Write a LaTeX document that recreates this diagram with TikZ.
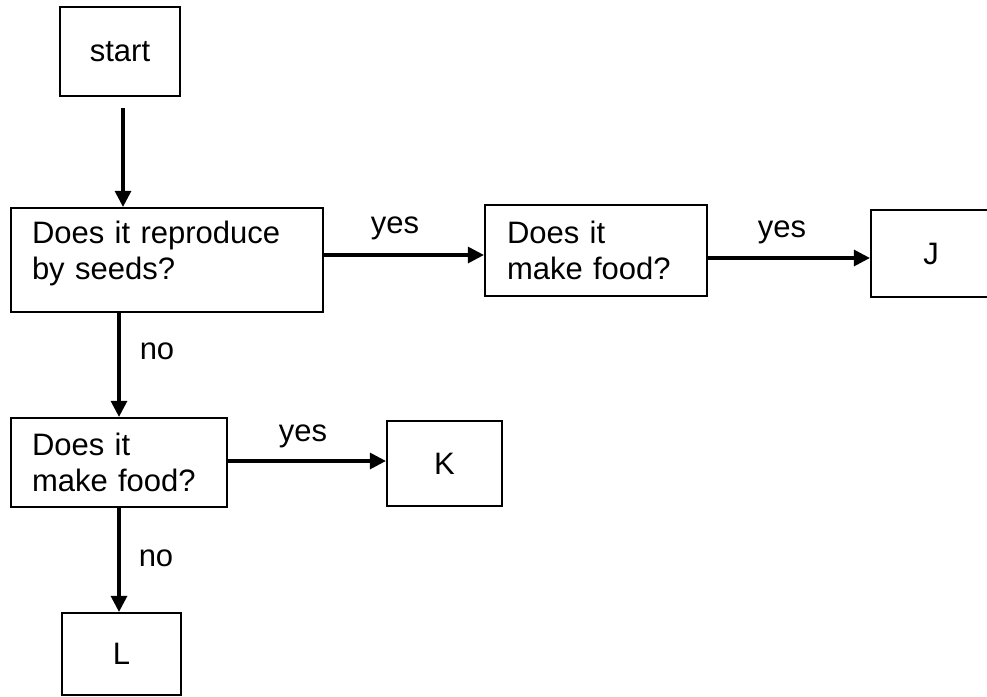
\documentclass[tikz,border=0pt]{standalone}
\usepackage{fontspec}
\setmainfont{Liberation Sans}
\usetikzlibrary{arrows.meta,positioning}

\begin{document}
\begin{tikzpicture}[x=1pt, y=-1pt]
% Key flow chart, coordinates in pixels of the page
\def\keyfont{\fontsize{31}{36}\selectfont}
\providecommand{\keyBoxLineWidth}{2.2pt}
\providecommand{\keyArrowLineWidth}{3.1pt}
\tikzset{
  keybox/.style={draw=black, line width=\keyBoxLineWidth, inner sep=0pt, font=\keyfont},
  keyquestion/.style={keybox, align=left, text width=#1},
  keyarrow/.style={draw=black, line width=\keyArrowLineWidth, -{Triangle[length=16pt,width=16pt]}},
  keylabel/.style={inner sep=0pt, anchor=base, font=\keyfont}
}
\useasboundingbox (0,0) rectangle (987,696);
\fill[white] (0,0) rectangle (987,696);
\begin{scope}[line cap=butt, line join=miter]
  % Boxes
  \node[keybox, minimum width=120pt, minimum height=89pt] (start) at (120,51.5) {start};
  \node[keyquestion=270pt, minimum width=312pt, minimum height=104pt, text depth=55pt] (seeds) at (167,260)
    {Does it reproduce\\by seeds?};
  \node[keyquestion=178pt, minimum width=222pt, minimum height=91pt] (foodA) at (596,250.5)
    {Does it\\make food?};
  \node[keybox, minimum width=120pt, minimum height=87pt] (J) at (931,253.5) {J};
  \node[keyquestion=174pt, minimum width=216pt, minimum height=89pt] (foodB) at (119,462.5)
    {Does it\\make food?};
  \node[keybox, minimum width=115pt, minimum height=85pt] (K) at (444.5,463.5) {K};
  \node[keybox, minimum width=119pt, minimum height=82pt] (L) at (121.5,654) {L};
  % Arrows
  \draw[keyarrow, shorten <=11pt] ([xshift=3pt]start.south) -- ([xshift=3pt]start.south |- seeds.north);
  \draw[keyarrow] ([yshift=5pt]seeds.east) -- ([yshift=5pt]seeds.east -| foodA.west);
  \draw[keyarrow] ([yshift=-7.5pt]foodA.east) -- ([yshift=-7.5pt]foodA.east -| J.west);
  \draw[keyarrow] (foodB.north |- seeds.south) -- (foodB.north);
  \draw[keyarrow] ([yshift=1.5pt]foodB.east) -- ([yshift=1.5pt]foodB.east -| K.west);
  \draw[keyarrow] (foodB.south) -- (foodB.south |- L.north);
  % Labels
  \node[keylabel] (yesA) at (395,233) {yes};
  \node[keylabel] (yesB) at (782,237) {yes};
  \node[keylabel] (noA) at (157,359) {no};
  \node[keylabel] (yesC) at (303,441) {yes};
  \node[keylabel] (noB) at (156,566) {no};
\end{scope}
\end{tikzpicture}
\end{document}
